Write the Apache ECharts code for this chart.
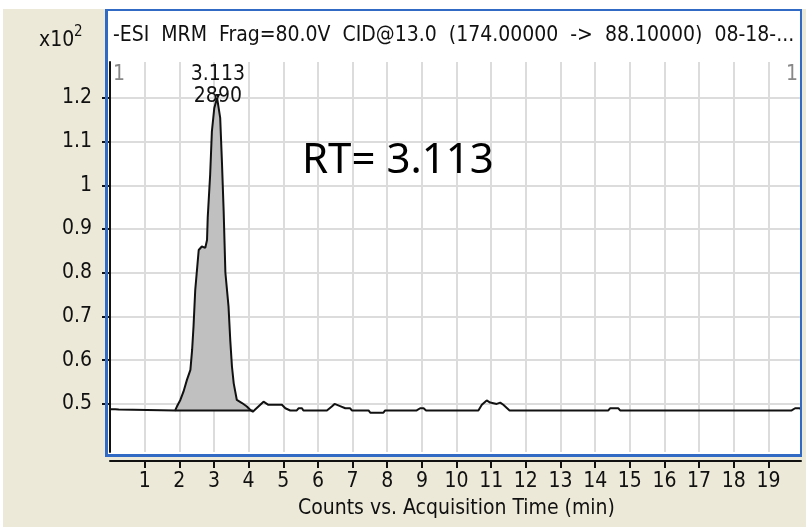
<!DOCTYPE html>
<html>
<head>
<meta charset="utf-8">
<script src="https://cdn.jsdelivr.net/npm/echarts@6/dist/echarts.min.js"></script>
<style>
 html, body { margin: 0; padding: 0; background: #fff; }
 #chart { width: 806px; height: 532px; }
</style>
</head>
<body>
<div id="chart"></div>
<script>
 // retention time (min) and counts (x10^2)
 var timeMin = [0.0, 0.15, 0.20, 0.25, 0.30, 1.88, 1.93, 2.03, 2.12, 2.22, 2.32, 2.37, 2.41, 2.46, 2.56, 2.65, 2.75, 2.80, 2.82, 2.89, 2.94, 3.01, 3.09, 3.113, 3.13, 3.18, 3.23, 3.28, 3.33, 3.42, 3.47, 3.52, 3.57, 3.66, 3.81, 3.95, 4.05, 4.12, 4.43, 4.57, 4.96, 5.06, 5.20, 5.39, 5.44, 5.54, 5.58, 6.26, 6.40, 6.48, 6.64, 6.79, 6.93, 6.98, 7.46, 7.51, 7.89, 7.94, 8.85, 8.95, 9.05, 9.12, 10.63, 10.73, 10.87, 10.97, 11.16, 11.26, 11.35, 11.53, 14.38, 14.43, 14.67, 14.72, 19.67, 19.77, 19.81, 19.89, 19.96];
 var counts = [0.488, 0.488, 0.490, 0.487, 0.485, 0.485, 0.494, 0.509, 0.528, 0.555, 0.578, 0.624, 0.677, 0.761, 0.852, 0.860, 0.857, 0.875, 0.926, 1.024, 1.123, 1.177, 1.200, 1.203, 1.196, 1.154, 1.054, 0.940, 0.800, 0.723, 0.646, 0.585, 0.547, 0.509, 0.502, 0.494, 0.486, 0.482, 0.505, 0.498, 0.498, 0.490, 0.485, 0.485, 0.490, 0.490, 0.485, 0.485, 0.494, 0.500, 0.495, 0.490, 0.490, 0.485, 0.485, 0.480, 0.480, 0.485, 0.485, 0.490, 0.490, 0.485, 0.485, 0.498, 0.508, 0.503, 0.500, 0.503, 0.498, 0.485, 0.485, 0.490, 0.490, 0.485, 0.485, 0.490, 0.486, 0.490, 0.488];
 var xTicks = [1, 2, 3, 4, 5, 6, 7, 8, 9, 10, 11, 12, 13, 14, 15, 16, 17, 18, 19];
 var yTicks = [0.5, 0.6, 0.7, 0.8, 0.9, 1.0, 1.1, 1.2];
 var peakStart = 1.88, peakEnd = 4.12, peakBase = 0.485;
 var peakRT = 3.113, peakArea = '2890';
 var titleText = '-ESI  MRM  Frag=80.0V  CID@13.0  (174.00000  ->  88.10000)  08-18-...';

 var narrow = "'Liberation Sans Narrow', 'DejaVu Sans Condensed', 'Liberation Sans', sans-serif";
 var blue = '#316ac5';

 var trace = [], peak = [];
 for (var i = 0; i < timeMin.length; i++) {
  trace.push([timeMin[i], counts[i]]);
  if (timeMin[i] >= peakStart && timeMin[i] <= peakEnd) peak.push([timeMin[i], counts[i]]);
 }
 var peakTop = counts[timeMin.indexOf(peakRT)];

 var myChart = echarts.init(document.getElementById('chart'));
 var option = {
  backgroundColor: '#fff',
  animation: false,
  grid: { left: 110, top: 62, right: 5, bottom: 80 },
  xAxis: {
   type: 'value', min: 0, max: 19.94, offset: 9,
   axisLine: { lineStyle: { color: '#111', width: 2 } },
   axisTick: { length: 7, lineStyle: { color: '#111', width: 2 }, customValues: xTicks },
   axisLabel: { color: '#111', fontSize: 21, fontFamily: narrow, margin: 10, customValues: xTicks },
   splitLine: { show: true, lineStyle: { color: '#dcdcdc', width: 2 } }
  },
  yAxis: {
   type: 'value', min: 0.39, max: 1.282, offset: 6,
   axisLine: { show: true, lineStyle: { color: '#111', width: 2 } },
   axisTick: { show: true, length: 8, lineStyle: { color: '#111', width: 2 }, customValues: yTicks },
   axisLabel: { color: '#111', fontSize: 21, fontFamily: narrow, margin: 12, customValues: yTicks,
    formatter: function (v) { return String(Math.round(v * 10) / 10); } },
   splitLine: { show: true, lineStyle: { color: '#dcdcdc', width: 2 } }
  },
  series: [
   {
    type: 'line', data: peak, symbol: 'none', silent: true,
    lineStyle: { width: 0 },
    areaStyle: { color: '#c0c0c0', opacity: 1, origin: peakBase },
    z: 1
   },
   {
    type: 'line', data: [[peakStart, peakBase], [peakEnd, peakBase]], symbol: 'none', silent: true,
    lineStyle: { color: '#111', width: 2 }, z: 2
   },
   {
    type: 'line', data: trace, symbol: 'none',
    lineStyle: { color: '#111', width: 2 }, z: 3,
    markPoint: {
     symbol: 'triangle', symbolSize: [5, 5], symbolRotate: 180, itemStyle: { color: '#111' },
     label: { show: true, position: 'inside', offset: [0, -11], color: '#111', fontSize: 21,
      fontFamily: narrow, lineHeight: 22 },
     data: [{ coord: [peakRT, peakTop], value: peakRT + '\n' + peakArea }]
    }
   }
  ],
  graphic: [
   { type: 'rect', z: -30, shape: { x: 3, y: 9, width: 803, height: 518 }, style: { fill: '#ece9d8' } },
   { type: 'rect', z: -20, shape: { x: 106, y: 10, width: 695, height: 446 }, style: { fill: '#fff' } },
   { type: 'rect', z: 50, shape: { x: 105, y: 9, width: 3, height: 448 }, style: { fill: blue } },
   { type: 'rect', z: 50, shape: { x: 105, y: 9, width: 697, height: 2 }, style: { fill: blue } },
   { type: 'rect', z: 50, shape: { x: 105, y: 454, width: 697, height: 3 }, style: { fill: blue } },
   { type: 'rect', z: 50, shape: { x: 800, y: 9, width: 2, height: 448 }, style: { fill: blue } },
   { type: 'text', z: 60, left: 113, top: 25, style: { text: titleText, fill: '#111', font: '21px ' + narrow } },
   { type: 'text', z: 60, left: 39, top: 30, style: { text: 'x10', fill: '#111', font: '21px ' + narrow } },
   { type: 'text', z: 60, left: 74, top: 25, style: { text: '2', fill: '#111', font: '15px ' + narrow } },
   { type: 'text', z: 60, left: 113, top: 64, style: { text: '1', fill: '#888', font: '21px ' + narrow } },
   { type: 'text', z: 60, left: 786, top: 64, style: { text: '1', fill: '#888', font: '21px ' + narrow } },
   { type: 'text', z: 60, left: 302, top: 140, style: { text: 'RT= ' + peakRT, fill: '#000', font: '42px "Noto Sans", sans-serif' } },
   { type: 'text', z: 60, left: 298, top: 498, style: { text: 'Counts vs. Acquisition Time (min)', fill: '#111', font: '21px ' + narrow } }
  ]
 };
 myChart.setOption(option);
</script>
</body>
</html>
